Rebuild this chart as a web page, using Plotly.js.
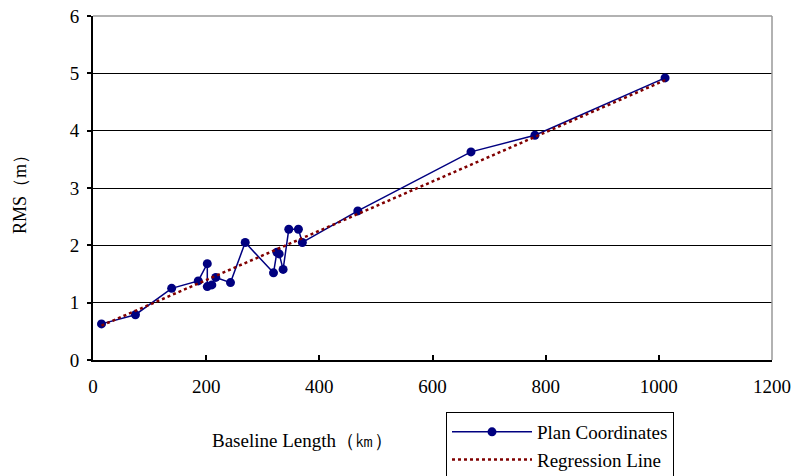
<!DOCTYPE html>
<html><head><meta charset="utf-8">
<script src="https://cdn.plot.ly/plotly-3.0.1.min.js"></script>
<style>body{margin:0;background:#fff}#chart{width:794px;height:476px}</style>
</head><body><div id="chart"></div>
<script>
const baselineKm = [15, 75, 139, 186, 202, 202, 210, 217, 243, 269, 319, 325, 329, 336, 346, 363, 370, 468, 668, 781, 1011];
const rmsPlan = [0.63, 0.79, 1.25, 1.38, 1.68, 1.28, 1.31, 1.44, 1.35, 2.05, 1.52, 1.88, 1.85, 1.58, 2.28, 2.28, 2.05, 2.60, 3.63, 3.92, 4.92];
const regressionX = [15, 1011];
const regressionY = [0.60, 4.88];
const xTicks = [0, 200, 400, 600, 800, 1000, 1200];
const yTicks = [0, 1, 2, 3, 4, 5, 6];
const seriesNames = ["Plan Coordinates", "Regression Line"];

const serif = "Liberation Serif";
const data = [
  {x: baselineKm, y: rmsPlan, name: seriesNames[0], type: 'scatter', mode: 'lines+markers',
   line: {color: '#000080', width: 1.5}, marker: {color: '#000080', size: 9}},
  {x: regressionX, y: regressionY, name: seriesNames[1], type: 'scatter', mode: 'lines',
   line: {color: '#800000', width: 2.5, dash: 'dot'}}
];
const plotW = 794 - 93 - 22, plotH = 476 - 16 - 116;
const layout = {
  width: 794, height: 476, paper_bgcolor: '#fff', plot_bgcolor: '#fff',
  margin: {l: 93, r: 22, t: 16, b: 116, autoexpand: false},
  font: {family: serif, size: 18, color: '#000'},
  showlegend: true,
  legend: {x: (446 - 93) / plotW, y: (476 - 116 - 412) / plotH, xanchor: 'left', yanchor: 'top',
           bordercolor: '#000', borderwidth: 1, bgcolor: '#fff', font: {family: serif, size: 19},
           tracegroupgap: 0, itemwidth: 80, entrywidth: 175},
  xaxis: {range: [0, 1200], tickvals: xTicks, ticktext: xTicks.map(String), showgrid: false, zeroline: false,
          showline: true, linecolor: '#000', linewidth: 2, ticks: 'inside', ticklen: 5, tickwidth: 2, tickcolor: '#000',
          tickfont: {family: serif, size: 19}, ticklabelstandoff: 8, fixedrange: true, automargin: false},
  yaxis: {range: [0, 6], tickvals: yTicks, ticktext: yTicks.map(String), showgrid: true, gridcolor: '#000', gridwidth: 1,
          zeroline: false, showline: true, linecolor: '#000', linewidth: 2, ticks: 'outside', ticklen: 4, tickwidth: 2,
          tickcolor: '#000', tickfont: {family: serif, size: 19}, ticklabelstandoff: 4, fixedrange: true, automargin: false},
  shapes: [
    {type: 'line', xref: 'paper', yref: 'paper', x0: 1, x1: 1, y0: 0, y1: 1, line: {color: '#999', width: 1.5}},
    {type: 'line', xref: 'paper', yref: 'paper', x0: 0, x1: 1, y0: 1, y1: 1, line: {color: '#999', width: 1.5}}
  ],
  annotations: [
    {text: 'Baseline Length（㎞）', xref: 'paper', yref: 'paper', x: (302 - 93) / plotW, y: (476 - 116 - 440) / plotH,
     xanchor: 'center', yanchor: 'middle', showarrow: false, font: {family: serif, size: 19}},
    {text: 'RMS（m）', xref: 'paper', yref: 'paper', x: (20 - 93) / plotW, y: (476 - 116 - 190) / plotH, textangle: -90,
     xanchor: 'center', yanchor: 'middle', showarrow: false, font: {family: serif, size: 18}}
  ]
};
Plotly.newPlot('chart', data, layout, {displayModeBar: false, staticPlot: true});
</script></body></html>
